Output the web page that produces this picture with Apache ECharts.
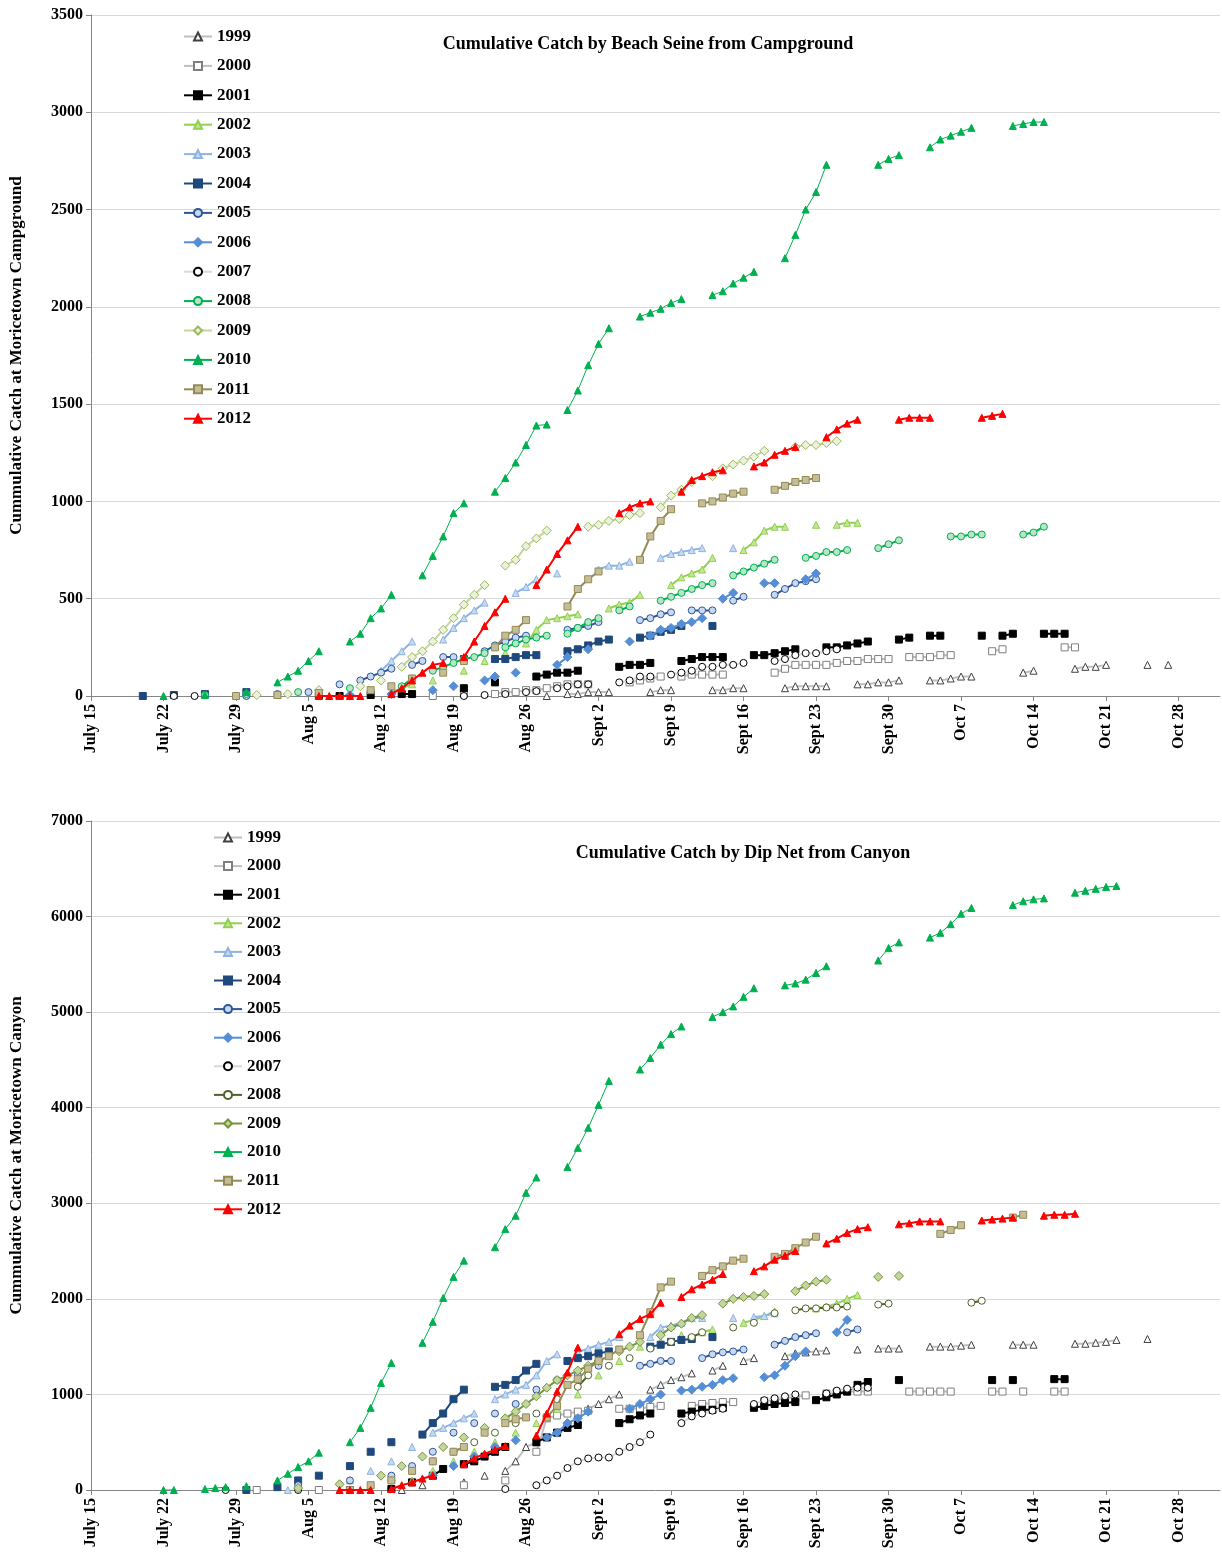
<!DOCTYPE html>
<html>
<head>
<meta charset="utf-8">
<script src="https://cdn.jsdelivr.net/npm/echarts@6/dist/echarts.min.js"></script>
<style>html,body{margin:0;padding:0;background:#fff}#main{width:1222px;height:1563px}</style>
</head>
<body>
<div id="main"></div>
<script>
// day 0 = July 15
const tickLabels = ["July 15","July 22","July 29","Aug 5","Aug 12","Aug 19","Aug 26","Sept 2","Sept 9","Sept 16","Sept 23","Sept 30","Oct 7","Oct 14","Oct 21","Oct 28"];
const years = ["1999","2000","2001","2002","2003","2004","2005","2006","2007","2008","2009","2010","2011","2012"];

// Beach seine, campground
const t1999 = [[44,0],[46,10],[47,10],[48,20],[49,20],[50,20],[54,20],[55,30],[56,30],[60,30],[61,30],[62,40],[63,40],[67,40],[68,50],[69,50],[70,50],[71,50],[74,60],[75,60],[76,70],[77,70],[78,80],[81,80],[82,80],[83,90],[84,100],[85,100],[90,120],[91,130],[95,140],[96,150],[97,150],[98,160],[102,160],[104,160]];
const t2000 = [[33,0],[36,10],[39,10],[40,20],[41,20],[42,30],[43,30],[44,40],[45,50],[46,60],[47,60],[48,60],[52,70],[53,80],[54,90],[55,100],[57,100],[58,110],[59,110],[60,110],[61,110],[66,120],[67,140],[68,160],[69,160],[70,160],[71,160],[72,170],[73,180],[74,180],[75,190],[76,190],[77,190],[79,200],[80,200],[81,200],[82,210],[83,210],[87,230],[88,240],[94,250],[95,250]];
const t2001 = [[22,0],[24,0],[27,5],[30,10],[31,10],[36,40],[39,70],[43,100],[44,110],[45,120],[46,120],[47,130],[51,150],[52,160],[53,160],[54,170],[57,180],[58,190],[59,200],[60,200],[61,200],[64,210],[65,210],[66,220],[67,230],[68,240],[71,250],[72,250],[73,260],[74,270],[75,280],[78,290],[79,300],[81,310],[82,310],[86,310],[88,310],[89,320],[92,320],[93,320],[94,320]];
const t2002 = [[22,0],[25,10],[29,20],[30,40],[31,60],[33,80],[36,130],[38,180],[40,220],[42,270],[43,340],[44,390],[45,400],[46,410],[47,420],[50,450],[51,470],[52,480],[53,520],[56,570],[57,610],[58,630],[59,650],[60,710],[63,750],[64,790],[65,850],[66,870],[67,870],[70,880],[72,880],[73,890],[74,890]];
const t2003 = [[18,5],[22,20],[26,60],[28,130],[29,180],[30,230],[31,280],[34,290],[35,350],[36,400],[37,440],[38,480],[41,530],[42,560],[43,600],[45,630],[49,650],[50,670],[51,670],[52,690],[55,710],[56,730],[57,740],[58,750],[59,760],[62,760]];
const t2004 = [[5,0],[8,5],[11,10],[15,20],[36,190],[39,190],[40,190],[41,200],[42,210],[43,210],[46,230],[47,240],[48,260],[49,280],[50,290],[53,300],[54,310],[55,330],[56,340],[57,360],[60,360]];
const t2005 = [[15,0],[18,10],[21,20],[24,60],[26,80],[27,100],[28,120],[29,140],[31,160],[32,180],[34,200],[35,200],[38,230],[39,260],[40,280],[41,300],[42,310],[46,340],[47,350],[48,360],[49,380],[53,390],[54,400],[55,420],[56,430],[58,440],[59,440],[60,440],[62,490],[63,510],[66,520],[67,550],[68,580],[69,590],[70,600]];
const t2006 = [[25,5],[29,10],[33,30],[35,50],[38,80],[39,100],[41,120],[45,160],[46,200],[48,240],[52,280],[54,310],[55,340],[56,350],[57,370],[58,380],[59,400],[61,500],[62,530],[65,580],[66,580],[69,600],[70,630]];
const t2007 = [[8,0],[10,0],[36,0],[38,5],[40,10],[42,20],[43,25],[45,40],[46,50],[47,60],[48,60],[51,70],[52,80],[53,100],[54,100],[56,110],[57,120],[58,130],[59,150],[60,150],[61,160],[62,160],[63,170],[66,180],[67,190],[68,210],[69,220],[70,220],[71,230],[72,240]];
const t2008 = [[11,5],[15,10],[20,20],[25,40],[30,50],[31,90],[33,130],[34,150],[35,170],[36,190],[37,200],[38,220],[40,250],[41,270],[42,290],[43,300],[44,310],[46,320],[47,350],[48,380],[49,400],[51,440],[52,460],[55,490],[56,510],[57,530],[58,550],[59,570],[60,580],[62,620],[63,640],[64,660],[65,680],[66,700],[69,710],[70,720],[71,740],[72,740],[73,750],[76,760],[77,780],[78,800],[83,820],[84,820],[85,830],[86,830],[90,830],[91,840],[92,870]];
const t2009 = [[16,5],[19,10],[22,30],[26,50],[28,80],[30,150],[31,200],[32,230],[33,280],[34,340],[35,400],[36,470],[37,520],[38,570],[40,670],[41,700],[42,770],[43,810],[44,850],[48,870],[49,880],[50,900],[51,910],[52,930],[53,940],[55,970],[56,1030],[57,1060],[58,1100],[60,1130],[61,1170],[62,1190],[63,1210],[64,1230],[65,1260],[68,1280],[69,1290],[70,1290],[71,1300],[72,1310]];
const t2010 = [[7,0],[11,5],[15,20],[18,70],[19,100],[20,130],[21,180],[22,230],[25,280],[26,320],[27,400],[28,450],[29,520],[32,620],[33,720],[34,820],[35,940],[36,990],[39,1050],[40,1120],[41,1200],[42,1290],[43,1390],[44,1395],[46,1470],[47,1570],[48,1700],[49,1810],[50,1890],[53,1950],[54,1970],[55,1990],[56,2020],[57,2040],[60,2060],[61,2080],[62,2120],[63,2150],[64,2180],[67,2250],[68,2370],[69,2500],[70,2590],[71,2730],[76,2730],[77,2760],[78,2780],[81,2820],[82,2860],[83,2880],[84,2900],[85,2920],[89,2930],[90,2940],[91,2950],[92,2950]];
const t2011 = [[14,0],[18,5],[22,15],[27,30],[29,50],[31,90],[34,120],[36,180],[39,250],[40,310],[41,340],[42,390],[46,460],[47,550],[48,600],[49,640],[53,700],[54,820],[55,900],[56,960],[59,990],[60,1000],[61,1020],[62,1040],[63,1050],[66,1060],[67,1080],[68,1100],[69,1110],[70,1120]];
const t2012 = [[22,0],[23,0],[24,0],[25,0],[26,0],[29,10],[30,40],[31,80],[32,120],[33,160],[34,170],[36,200],[37,280],[38,360],[39,430],[40,500],[43,570],[44,650],[45,730],[46,800],[47,870],[51,940],[52,970],[53,990],[54,1000],[57,1050],[58,1110],[59,1130],[60,1150],[61,1160],[64,1180],[65,1200],[66,1240],[67,1260],[68,1280],[71,1330],[72,1370],[73,1400],[74,1420],[78,1420],[79,1430],[80,1430],[81,1430],[86,1430],[87,1440],[88,1450]];

// Dip net, canyon
const b1999 = [[30,0],[32,50],[36,80],[38,150],[40,200],[41,300],[42,450],[43,500],[47,800],[48,850],[49,900],[50,950],[51,1000],[54,1050],[55,1100],[56,1150],[57,1180],[58,1220],[60,1250],[61,1300],[63,1350],[64,1380],[67,1400],[68,1430],[69,1440],[70,1450],[71,1460],[74,1470],[76,1480],[77,1480],[78,1480],[81,1500],[82,1500],[83,1500],[84,1510],[85,1520],[89,1520],[90,1520],[91,1520],[95,1530],[96,1530],[97,1540],[98,1550],[99,1570],[102,1580]];
const b2000 = [[16,0],[22,0],[36,50],[40,100],[43,400],[44,750],[45,780],[46,800],[47,820],[48,830],[51,850],[52,850],[53,850],[54,870],[55,880],[58,880],[59,900],[60,910],[61,920],[62,920],[65,930],[66,940],[67,960],[68,970],[69,990],[71,1010],[72,1020],[73,1030],[74,1030],[75,1030],[79,1030],[80,1030],[81,1030],[82,1030],[83,1030],[87,1030],[88,1030],[90,1030],[93,1030],[94,1030]];
const b2001 = [[25,0],[29,10],[31,80],[33,150],[34,220],[36,270],[37,300],[38,350],[39,400],[40,450],[43,500],[44,550],[45,600],[46,650],[47,680],[51,700],[52,740],[53,780],[54,800],[57,800],[58,820],[59,840],[60,840],[61,860],[64,860],[65,880],[66,900],[67,910],[68,920],[70,940],[71,970],[72,1000],[73,1030],[74,1100],[75,1130],[78,1150],[87,1150],[89,1150],[93,1160],[94,1160]];
const b2002 = [[31,100],[33,200],[35,300],[37,400],[39,500],[41,600],[43,700],[45,850],[47,1000],[49,1200],[51,1350],[53,1500],[55,1550],[57,1620],[59,1650],[60,1680],[63,1750],[64,1780],[65,1820],[66,1870],[70,1900],[71,1920],[72,1950],[73,2000],[74,2040]];
const b2003 = [[19,0],[25,100],[27,200],[29,300],[31,450],[33,600],[34,650],[35,700],[36,750],[37,800],[39,950],[40,1000],[41,1050],[42,1100],[43,1200],[44,1350],[45,1420],[47,1440],[48,1480],[49,1520],[50,1550],[51,1600],[54,1600],[55,1700],[56,1720],[57,1750],[58,1800],[59,1800],[62,1800],[64,1810],[65,1820],[66,1850]];
const b2004 = [[15,0],[18,30],[20,100],[22,150],[25,250],[27,400],[29,500],[32,580],[33,700],[34,800],[35,950],[36,1050],[39,1080],[40,1100],[41,1150],[42,1250],[43,1320],[46,1350],[47,1380],[48,1400],[49,1430],[50,1450],[54,1500],[55,1520],[56,1550],[57,1570],[58,1580],[60,1600]];
const b2005 = [[20,50],[25,100],[29,150],[31,250],[33,400],[35,600],[37,700],[39,800],[41,900],[43,1050],[45,1150],[47,1200],[49,1300],[53,1300],[54,1320],[55,1350],[56,1350],[59,1380],[60,1420],[61,1440],[62,1450],[63,1470],[66,1520],[67,1560],[68,1600],[69,1620],[70,1640],[73,1650],[74,1680]];
const b2006 = [[33,150],[35,250],[37,350],[39,450],[41,520],[44,550],[45,600],[46,700],[47,750],[48,820],[52,850],[53,900],[54,950],[55,1000],[57,1040],[58,1050],[59,1080],[60,1100],[61,1150],[62,1170],[65,1180],[66,1200],[67,1300],[68,1400],[69,1450],[72,1650],[73,1780]];
const b2007 = [[13,0],[20,0],[40,10],[43,50],[44,100],[45,150],[46,230],[47,300],[48,330],[49,340],[50,340],[51,400],[52,450],[53,500],[54,580],[57,700],[58,770],[59,800],[60,830],[61,850],[64,900],[65,940],[66,960],[67,980],[68,1000],[71,1010],[72,1040],[73,1060],[74,1070],[75,1070]];
const b2008 = [[29,100],[31,200],[33,300],[35,400],[37,500],[39,600],[41,700],[43,800],[45,950],[47,1080],[48,1200],[50,1300],[52,1380],[54,1480],[56,1550],[58,1600],[59,1650],[62,1700],[64,1750],[66,1850],[68,1880],[69,1900],[70,1900],[71,1910],[72,1910],[73,1920],[76,1940],[77,1950],[85,1960],[86,1980]];
const b2009 = [[20,20],[24,60],[28,150],[30,250],[32,350],[34,450],[36,550],[38,650],[40,750],[41,820],[42,900],[43,980],[44,1070],[45,1150],[46,1200],[47,1250],[48,1300],[49,1350],[51,1450],[52,1500],[53,1550],[55,1620],[56,1700],[57,1740],[58,1800],[59,1830],[61,1950],[62,2000],[63,2020],[64,2030],[65,2050],[68,2080],[69,2140],[70,2180],[71,2200],[76,2230],[78,2240]];
const b2010 = [[7,0],[8,0],[11,10],[12,20],[13,30],[15,40],[18,100],[19,170],[20,240],[21,300],[22,390],[25,500],[26,650],[27,860],[28,1120],[29,1330],[32,1540],[33,1760],[34,2010],[35,2230],[36,2400],[39,2540],[40,2730],[41,2870],[42,3110],[43,3270],[46,3380],[47,3580],[48,3790],[49,4030],[50,4280],[53,4400],[54,4520],[55,4660],[56,4770],[57,4850],[60,4950],[61,5000],[62,5060],[63,5160],[64,5250],[67,5280],[68,5300],[69,5340],[70,5410],[71,5480],[76,5540],[77,5670],[78,5730],[81,5780],[82,5830],[83,5920],[84,6030],[85,6090],[89,6120],[90,6160],[91,6180],[92,6190],[95,6250],[96,6270],[97,6290],[98,6310],[99,6320]];
const b2011 = [[25,0],[27,50],[29,100],[31,200],[33,300],[35,400],[36,450],[38,600],[40,700],[41,740],[42,760],[44,760],[45,880],[46,1100],[47,1160],[48,1270],[49,1350],[50,1400],[51,1470],[53,1620],[54,1860],[55,2120],[56,2180],[59,2240],[60,2300],[61,2340],[62,2400],[63,2420],[66,2440],[67,2470],[68,2530],[69,2590],[70,2650],[82,2680],[83,2720],[84,2770],[89,2850],[90,2880]];
const b2012 = [[24,0],[25,0],[26,0],[27,0],[29,10],[30,50],[31,80],[32,120],[33,150],[36,270],[37,330],[38,380],[39,420],[40,460],[43,570],[44,800],[45,1030],[46,1230],[47,1490],[51,1630],[52,1720],[53,1790],[54,1840],[55,1960],[57,2020],[58,2100],[59,2150],[60,2200],[61,2260],[64,2290],[65,2340],[66,2410],[67,2450],[68,2500],[71,2580],[72,2630],[73,2690],[74,2730],[75,2750],[78,2780],[79,2790],[80,2810],[81,2810],[82,2810],[86,2820],[87,2830],[88,2840],[89,2850],[92,2870],[93,2880],[94,2880],[95,2890]];

const topData = [t1999,t2000,t2001,t2002,t2003,t2004,t2005,t2006,t2007,t2008,t2009,t2010,t2011,t2012];
const botData = [b1999,b2000,b2001,b2002,b2003,b2004,b2005,b2006,b2007,b2008,b2009,b2010,b2011,b2012];

// symbol, fill, border, line colour
const styles = {
  "1999": ["triangle", "#ffffff", "#404040", "#bfbfbf"],
  "2000": ["rect", "#ffffff", "#7f7f7f", "#bfbfbf"],
  "2001": ["rect", "#000000", "#000000", "#000000"],
  "2002": ["triangle", "#c3e59a", "#92d050", "#92d050"],
  "2003": ["triangle", "#c6d9f1", "#8db4e2", "#8db4e2"],
  "2004": ["rect", "#1f497d", "#1f497d", "#1f497d"],
  "2005": ["circle", "#c6d9f1", "#2f5597", "#2f5597"],
  "2006": ["diamond", "#558ed5", "#558ed5", "#558ed5"],
  "2007": ["circle", "#ffffff", "#000000", "#d9d9d9"],
  "2008": ["circle", "#b7e6c6", "#00b050", "#00b050"],
  "2009": ["diamond", "#ebf1de", "#9bbb59", "#c3d69b"],
  "2010": ["triangle", "#00b050", "#00b050", "#00b050"],
  "2011": ["rect", "#c4bd97", "#948a54", "#948a54"],
  "2012": ["triangle", "#ff0000", "#ff0000", "#ff0000"]
};
const botOverride = {
  "2008": ["circle", "#ffffff", "#4f6228", "#4f6228"],
  "2009": ["diamond", "#c3d69b", "#77933c", "#77933c"]
};

// break the line where days are missing
function withGaps(pts) {
  const out = [];
  pts.forEach((p, i) => {
    if (i > 0 && p[0] - pts[i - 1][0] > 1) out.push([p[0] - 0.5, '-']);
    out.push(p);
  });
  return out;
}

const font = "Liberation Serif";
const series = [];
years.forEach((y, i) => {
  [0, 1].forEach(g => {
    const s = g === 1 && botOverride[y] ? botOverride[y] : styles[y];
    series.push({
      name: g === 0 ? y : y + " ",
      type: "line",
      xAxisIndex: g, yAxisIndex: g,
      data: withGaps(g === 0 ? topData[i] : botData[i]),
      symbol: s[0],
      symbolSize: s[0] === "diamond" ? 9 : 7,
      connectNulls: false,
      itemStyle: { color: s[1], borderColor: s[2], borderWidth: 1 },
      lineStyle: { color: s[3], width: y === "2010" ? 1 : 2 },
      z: 2 + i
    });
  });
});

const legendBase = {
  orient: "vertical", left: 178, itemWidth: 28, itemHeight: 10,
  textStyle: { fontFamily: font, fontWeight: "bold", fontSize: 17, color: "#000" },
  formatter: n => n.trim()
};

function xAxis(g) {
  return {
    gridIndex: g, type: "value", min: 0, max: 109, interval: 7,
    axisLine: { lineStyle: { color: "#868686" } },
    axisTick: { show: true, lineStyle: { color: "#868686" } },
    splitLine: { show: false },
    axisLabel: {
      rotate: 90, showMaxLabel: false, color: "#000",
      fontFamily: font, fontWeight: "bold", fontSize: 16,
      formatter: v => tickLabels[v / 7] || ""
    }
  };
}
function yAxis(g, max, name) {
  return {
    gridIndex: g, type: "value", min: 0, max: max, interval: max / 7,
    name: name, nameLocation: "middle", nameGap: 66,
    nameTextStyle: { fontFamily: font, fontWeight: "bold", fontSize: 17, color: "#000" },
    axisLine: { show: true, lineStyle: { color: "#868686" } },
    axisTick: { show: true, lineStyle: { color: "#868686" } },
    splitLine: { lineStyle: { color: "#d9d9d9" } },
    axisLabel: { color: "#000", fontFamily: font, fontWeight: "bold", fontSize: 16, formatter: v => String(v) }
  };
}

const myChart = echarts.init(document.getElementById("main"));
myChart.setOption({
  backgroundColor: "#fff",
  animation: false,
  title: [
    { text: "Cumulative Catch by Beach Seine from Campground", left: 643, top: 30, textAlign: "center",
      textStyle: { fontFamily: font, fontWeight: "bold", fontSize: 18, color: "#000" } },
    { text: "Cumulative Catch by Dip Net from Canyon", left: 738, top: 839, textAlign: "center",
      textStyle: { fontFamily: font, fontWeight: "bold", fontSize: 18, color: "#000" } }
  ],
  legend: [
    Object.assign({}, legendBase, { top: 23, itemGap: 12.4, data: years }),
    Object.assign({}, legendBase, { top: 824, left: 208, itemGap: 11.6, data: years.map(y => y + " ") })
  ],
  grid: [
    { left: 88, top: 15, width: 1132, height: 681 },
    { left: 88, top: 821, width: 1132, height: 669 }
  ],
  xAxis: [xAxis(0), xAxis(1)],
  yAxis: [
    yAxis(0, 3500, "Cummulative Catch at Moricetown Campground"),
    yAxis(1, 7000, "Cummulative Catch at Moricetown Canyon")
  ],
  series: series
});
</script>
</body>
</html>
